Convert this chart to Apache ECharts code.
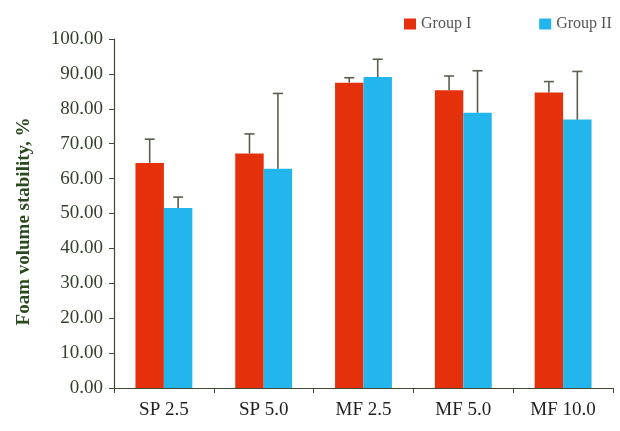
<!DOCTYPE html>
<html>
<head>
<meta charset="utf-8">
<script src="https://cdn.jsdelivr.net/npm/echarts@6/dist/echarts.min.js"></script>
<style>html,body{margin:0;padding:0;background:#fff}#c{width:620px;height:431px}</style>
</head>
<body>
<div id="c"></div>
<script>
var categories = ['SP 2.5', 'SP 5.0', 'MF 2.5', 'MF 5.0', 'MF 10.0'];
var group1 = [64.5, 67.2, 87.5, 85.3, 84.7];
var group1Err = [6.8, 5.6, 1.4, 4.1, 3.1];
var group2 = [51.6, 62.8, 89.1, 78.9, 76.9];
var group2Err = [3.1, 21.6, 5.1, 12.0, 13.8];
var yTicks = [0, 10, 20, 30, 40, 50, 60, 70, 80, 90, 100];

var GAP = 0.43;
var FONT = 'Liberation Serif';
var errColor = '#56604c';

function errSeries(values, errs, side) {
  var data = values.map(function (v, i) { return [i, v, v + errs[i]]; });
  return {
    type: 'custom',
    z: 5,
    silent: true,
    data: data,
    encode: { x: 0, y: [1, 2] },
    renderItem: function (params, api) {
      var i = api.value(0);
      var band = api.size([1, 0])[0];
      var bw = band * (1 - GAP) / 2;
      var p0 = api.coord([i, api.value(1)]);
      var p1 = api.coord([i, api.value(2)]);
      var x = p0[0] + side * bw / 2;
      var style = { stroke: errColor, lineWidth: 1.6 };
      return {
        type: 'group',
        children: [
          { type: 'line', shape: { x1: x, y1: p0[1], x2: x, y2: p1[1] }, style: style },
          { type: 'line', shape: { x1: x - 5, y1: p1[1], x2: x + 5, y2: p1[1] }, style: style }
        ]
      };
    }
  };
}

var chart = echarts.init(document.getElementById('c'));
chart.setOption({
  animation: false,
  textStyle: { fontFamily: FONT },
  legend: {
    left: 404, right: 0, top: 16, padding: 0,
    orient: 'horizontal',
    icon: 'rect', itemWidth: 12, itemHeight: 11, itemGap: 68,
    textStyle: { fontFamily: FONT, fontSize: 16, color: '#555' },
    data: ['Group I', 'Group II']
  },
  grid: { left: 114, right: 7, top: 39, bottom: 43 },
  xAxis: {
    type: 'category',
    data: categories,
    boundaryGap: true,
    axisLine: { lineStyle: { color: '#3e4a34', width: 1.2 } },
    axisTick: { show: true, length: 5, alignWithLabel: false, lineStyle: { color: '#3e4a34' } },
    axisLabel: { fontFamily: FONT, fontSize: 19, color: '#222', margin: 13 }
  },
  yAxis: {
    type: 'value',
    min: yTicks[0], max: yTicks[yTicks.length - 1], interval: 10,
    name: 'Foam volume stability, %',
    nameLocation: 'middle',
    nameGap: 80,
    nameTextStyle: { fontFamily: FONT, fontSize: 19, fontWeight: 'bold', color: '#2a4a1e', padding: [0, 16, 0, 0] },
    axisLine: { show: true, lineStyle: { color: '#3e4a34', width: 1.2 } },
    axisTick: { show: true, length: 5, lineStyle: { color: '#3e4a34' } },
    splitLine: { show: false },
    axisLabel: {
      fontFamily: FONT, fontSize: 19, color: '#34412a', margin: 11,
      formatter: function (v) { return v.toFixed(2); }
    }
  },
  series: [
    { name: 'Group I', type: 'bar', data: group1, barGap: '0%', barCategoryGap: (GAP * 100) + '%', itemStyle: { color: '#e5300c' } },
    { name: 'Group II', type: 'bar', data: group2, barGap: '0%', barCategoryGap: (GAP * 100) + '%', itemStyle: { color: '#22b6ec' } },
    errSeries(group1, group1Err, -1),
    errSeries(group2, group2Err, 1)
  ]
});
</script>
</body>
</html>
